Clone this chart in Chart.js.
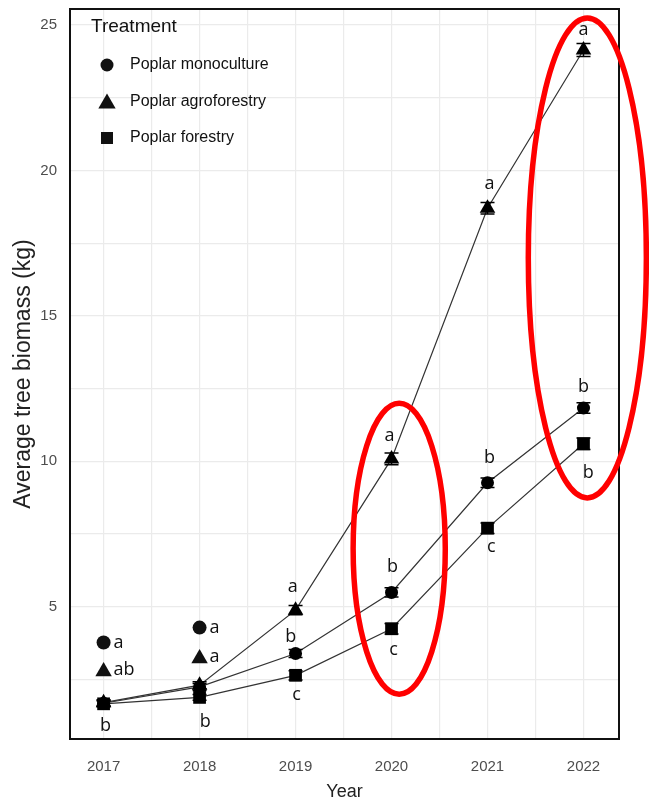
<!DOCTYPE html>
<html lang="en">
<head>
  <meta charset="UTF-8" />
  <title>Average tree biomass by treatment</title>
  <script src="https://cdn.jsdelivr.net/npm/chart.js"></script>
  <style>
    html, body { margin: 0; padding: 0; background: #fff; }
    #wrap { position: relative; width: 649px; height: 803px; }
  </style>
</head>
<body>
  <div id="wrap"><canvas id="chart" width="649" height="803"></canvas></div>

  <script>
    // data
    const years = [2017, 2018, 2019, 2020, 2021, 2022];
    const monoculture = [1.68, 2.24, 3.39, 5.49, 9.26, 11.83];
    const agroforestry = [1.70, 2.30, 4.88, 10.08, 18.70, 24.14];
    const forestry = [1.66, 1.88, 2.64, 4.24, 7.70, 10.60];
    const monoErr = [0.10, 0.12, 0.14, 0.16, 0.16, 0.18];
    const agroErr = [0.10, 0.12, 0.16, 0.20, 0.20, 0.22];
    const forErr = [0.10, 0.10, 0.16, 0.18, 0.18, 0.20];

    const seriesNames = ['Poplar monoculture', 'Poplar agroforestry', 'Poplar forestry'];
    const seriesShapes = ['circle', 'triangle', 'rect'];

    // significance letters
    const sigX = [2017.02, 2018.06, 2018.97, 2018.95, 2019.01, 2019.98, 2020.01, 2020.02, 2021.02, 2021.02, 2021.04, 2022.0, 2022.0, 2022.05];
    const sigY = [0.89, 1.03, 5.68, 3.97, 1.95, 10.86, 6.37, 3.53, 19.55, 10.1, 7.05, 24.83, 12.57, 9.59];
    const sigText = ['b', 'b', 'a', 'b', 'c', 'a', 'b', 'c', 'a', 'b', 'c', 'a', 'b', 'b'];

    // small symbol + letter keys for 2017 and 2018
    const keyX = [2017, 2017, 2018, 2018];
    const keyY = [3.77, 2.84, 4.28, 3.29];
    const keyShape = ['circle', 'triangle', 'circle', 'triangle'];
    const keyText = ['a', 'ab', 'a', 'a'];

    // axis ticks (gridlines every 2.5 on y, every 0.5 on x)
    const yTicks = [2.5, 5, 7.5, 10, 12.5, 15, 17.5, 20, 22.5, 25];
    const xTicks = [2017, 2017.5, 2018, 2018.5, 2019, 2019.5, 2020, 2020.5, 2021, 2021.5, 2022];

    // red highlight ellipses (centre and radii in data units)
    const hlX = [2020.08, 2022.04];
    const hlY = [6.99, 16.99];
    const hlRx = [0.48, 0.615];
    const hlRy = [5.0, 8.25];

    const toPoints = arr => arr.map((v, i) => ({ x: years[i], y: v }));

    function marker(ctx, shape, x, y, r) {
      ctx.beginPath();
      if (shape === 'circle') {
        ctx.arc(x, y, r, 0, Math.PI * 2);
      } else if (shape === 'triangle') {
        ctx.moveTo(x, y - r);
        ctx.lineTo(x + r * 0.866, y + r / 2);
        ctx.lineTo(x - r * 0.866, y + r / 2);
        ctx.closePath();
      } else {
        const s = r * Math.SQRT1_2;
        ctx.rect(x - s, y - s, 2 * s, 2 * s);
      }
      ctx.fill();
    }

    const decorations = {
      id: 'decorations',
      afterDatasetsDraw(chart) {
        const { ctx, chartArea: a, scales: { x, y } } = chart;
        ctx.save();

        // error bars
        const errs = [monoErr, agroErr, forErr];
        const vals = [monoculture, agroforestry, forestry];
        ctx.strokeStyle = '#000';
        ctx.lineWidth = 1.5;
        vals.forEach((arr, s) => {
          arr.forEach((v, i) => {
            const px = x.getPixelForValue(years[i]);
            const top = y.getPixelForValue(v + errs[s][i]);
            const bot = y.getPixelForValue(v - errs[s][i]);
            ctx.beginPath();
            ctx.moveTo(px, top); ctx.lineTo(px, bot);
            ctx.moveTo(px - 7, top); ctx.lineTo(px + 7, top);
            ctx.moveTo(px - 7, bot); ctx.lineTo(px + 7, bot);
            ctx.stroke();
          });
        });

        // letters
        ctx.fillStyle = '#111';
        ctx.font = '18px "Open Sans", sans-serif';
        ctx.textAlign = 'center';
        ctx.textBaseline = 'middle';
        sigText.forEach((t, i) => {
          ctx.fillText(t, x.getPixelForValue(sigX[i]), y.getPixelForValue(sigY[i]));
        });

        // symbol keys
        ctx.textAlign = 'left';
        keyText.forEach((t, i) => {
          const px = x.getPixelForValue(keyX[i]);
          const py = y.getPixelForValue(keyY[i]);
          marker(ctx, keyShape[i], px, keyShape[i] === 'triangle' ? py + 2 : py, keyShape[i] === 'triangle' ? 9.5 : 7);
          ctx.fillText(t, px + 10, py);
        });

        // panel border
        ctx.strokeStyle = '#111';
        ctx.lineWidth = 2;
        ctx.strokeRect(a.left, a.top, a.right - a.left, a.bottom - a.top);

        // legend
        ctx.fillStyle = '#111';
        ctx.font = '19px "Liberation Sans", Arial, sans-serif';
        ctx.textAlign = 'left';
        ctx.fillText('Treatment', a.left + 21, a.top + 18);
        ctx.font = '16px "Liberation Sans", Arial, sans-serif';
        seriesNames.forEach((name, i) => {
          const ly = a.top + 56 + i * 36.5;
          const shape = seriesShapes[i];
          marker(ctx, shape, a.left + 37, shape === 'triangle' ? ly + 2 : ly, shape === 'triangle' ? 10 : (shape === 'rect' ? 8.5 : 6.5));
          ctx.fillText(name, a.left + 60, ly);
        });

        // red ellipses
        ctx.strokeStyle = '#ff0000';
        ctx.lineWidth = 5.5;
        hlX.forEach((cx, i) => {
          const px = x.getPixelForValue(cx);
          const py = y.getPixelForValue(hlY[i]);
          const rx = Math.abs(x.getPixelForValue(cx + hlRx[i]) - px);
          const ry = Math.abs(y.getPixelForValue(hlY[i] + hlRy[i]) - py);
          ctx.beginPath();
          ctx.ellipse(px, py, rx, ry, 0, 0, Math.PI * 2);
          ctx.stroke();
        });

        ctx.restore();
      }
    };

    const lineSet = (label, arr, shape, r) => ({
      label,
      data: toPoints(arr),
      borderColor: '#333',
      borderWidth: 1.2,
      pointStyle: shape,
      pointRadius: r,
      pointHoverRadius: r,
      pointBackgroundColor: '#000',
      pointBorderColor: '#000',
      pointBorderWidth: 0,
      tension: 0
    });

    new Chart(document.getElementById('chart'), {
      type: 'line',
      data: {
        datasets: [
          lineSet(seriesNames[0], monoculture, 'circle', 6.5),
          lineSet(seriesNames[1], agroforestry, 'triangle', 9),
          lineSet(seriesNames[2], forestry, 'rect', 9)
        ]
      },
      options: {
        responsive: false,
        animation: false,
        layout: { padding: { top: 6, right: 30, left: 0, bottom: 0 } },
        plugins: { legend: { display: false }, tooltip: { enabled: false } },
        scales: {
          x: {
            type: 'linear',
            min: 2016.65,
            max: 2022.37,
            afterBuildTicks: axis => { axis.ticks = xTicks.map(v => ({ value: v })); },
            afterFit: axis => {
              axis.height = 64;
              axis.paddingLeft = 0;
              axis.paddingRight = 0;
            },
            grid: { color: '#ebebeb', lineWidth: 1.2, drawTicks: false },
            border: { display: false },
            ticks: {
              padding: 19,
              color: '#4d4d4d',
              font: { family: '"Liberation Sans", Arial, sans-serif', size: 15 },
              maxRotation: 0,
              autoSkip: false,
              callback: v => Number.isInteger(v) ? String(v) : ''
            },
            title: {
              display: true,
              text: 'Year',
              color: '#222',
              font: { family: '"Liberation Sans", Arial, sans-serif', size: 18 },
              padding: { top: 0, bottom: 0 }
            }
          },
          y: {
            min: 0.45,
            max: 25.55,
            afterBuildTicks: axis => { axis.ticks = yTicks.map(v => ({ value: v })); },
            afterFit: axis => {
              axis.width = 70;
              axis.paddingTop = 0;
              axis.paddingBottom = 0;
            },
            grid: { color: '#ebebeb', lineWidth: 1.2, drawTicks: false },
            border: { display: false },
            ticks: {
              padding: 13,
              color: '#4d4d4d',
              font: { family: '"Liberation Sans", Arial, sans-serif', size: 15 },
              autoSkip: false,
              callback: v => v % 5 === 0 ? String(v) : ''
            },
            title: {
              display: true,
              text: 'Average tree biomass (kg)',
              color: '#222',
              font: { family: '"Liberation Sans", Arial, sans-serif', size: 23 },
              padding: { top: 10, bottom: 0 }
            }
          }
        }
      },
      plugins: [decorations]
    });
  </script>
</body>
</html>
